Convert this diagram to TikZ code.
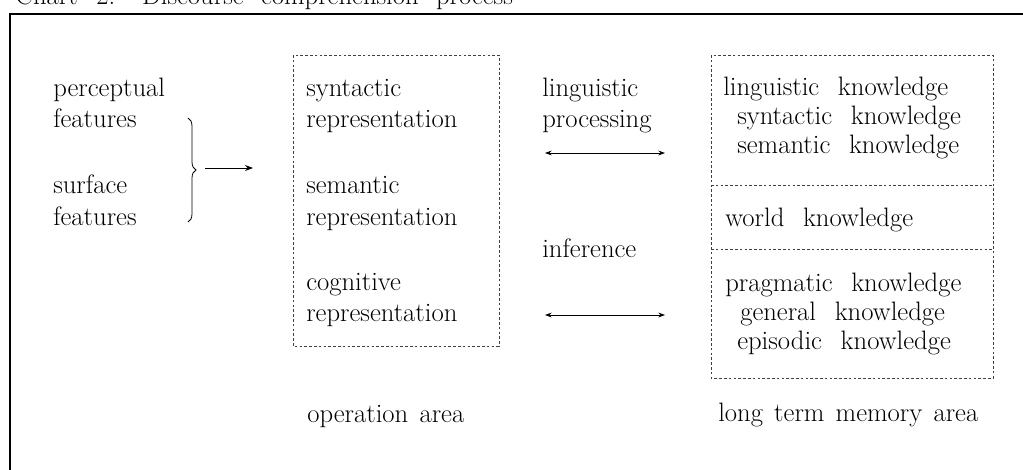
\documentclass[tikz,border=0pt]{standalone}
\usetikzlibrary{arrows.meta,decorations.pathreplacing}
\newcommand\kgap{\hspace{0.7em}}
\newcommand\cgap{\hspace{0.42em}}
\begin{document}
\begin{tikzpicture}[x=0.75pt,y=-0.75pt,
  txt/.style={anchor=base west,inner sep=0pt,font=\fontsize{20}{30}\selectfont},
  area/.style={draw=black!75,line width=0.6pt,dash pattern=on 2pt off 1.6pt},
  frame/.style={draw=black,line width=0.9pt},
  arr/.style={line width=0.7pt,-{Stealth[length=6pt,width=4.5pt]}},
  darr/.style={line width=0.6pt,{Stealth[length=5pt,width=3.6pt]}-{Stealth[length=5pt,width=3.6pt]}},
  bracestyle/.style={line width=0.6pt,decorate,decoration={brace,amplitude=6pt}}]
\useasboundingbox (0,0) rectangle (1023,470);

% heading, cut by the top edge
\node[txt] (title) at (15,5) {Chart\kgap 2.\hspace{1em}Discourse\hspace{0.65em}comprehension\hspace{0.65em}process};

% outer frame
\draw[frame] (10,470) -- (10,14) -- (1023,14);

% input features
\node[txt] (perc)  at (53,97)  {perceptual};
\node[txt] (feat1) at (53,128) {features};
\node[txt] (surf)  at (53,194) {surface};
\node[txt] (feat2) at (53,225) {features};

\coordinate (braceTop) at (188,118);
\coordinate (braceBot) at (188,222);
\draw[bracestyle] (braceTop) -- (braceBot);
\coordinate (inFrom) at (205,168);
\coordinate (inTo)   at (253,168);
\draw[arr] (inFrom) -- (inTo);

% operation area
\draw[area] (293,55) rectangle (499,346);
\node[txt] (syn)  at (306,97)  {syntactic};
\node[txt] (rep1) at (306,128) {representation};
\node[txt] (sem)  at (306,194) {semantic};
\node[txt] (rep2) at (306,225) {representation};
\node[txt] (cog)  at (306,290) {cognitive};
\node[txt] (rep3) at (306,321) {representation};
\node[txt] (oparea) at (307,422) {operation\cgap area};

% processes between the areas
\node[txt] (ling) at (542,97)  {linguistic};
\node[txt] (proc) at (542,128) {processing};
\coordinate (lpL) at (545,153);
\coordinate (lpR) at (665,153);
\draw[darr] (lpL) -- (lpR);

\node[txt] (infer) at (542,257) {inference};
\coordinate (inL) at (545,315);
\coordinate (inR) at (665,315);
\draw[darr] (inL) -- (inR);

% long term memory area
\draw[area] (711,55) rectangle (993,378);
\draw[area] (711,185) -- (993,185);
\draw[area] (711,249) -- (993,249);
\node[txt] (lk)  at (723,96)  {linguistic\kgap knowledge};
\node[txt] (sk)  at (737,125) {syntactic\kgap knowledge};
\node[txt] (smk) at (737,154) {semantic\kgap knowledge};
\node[txt] (wk)  at (725,226) {world\kgap knowledge};
\node[txt] (pk)  at (725,291) {pragmatic\kgap knowledge};
\node[txt] (gk)  at (740,320) {general\kgap knowledge};
\node[txt] (ek)  at (737,349) {episodic\kgap knowledge};
\node[txt] (ltm) at (718,421) {long\cgap term\cgap memory\cgap area};
\end{tikzpicture}
\end{document}
